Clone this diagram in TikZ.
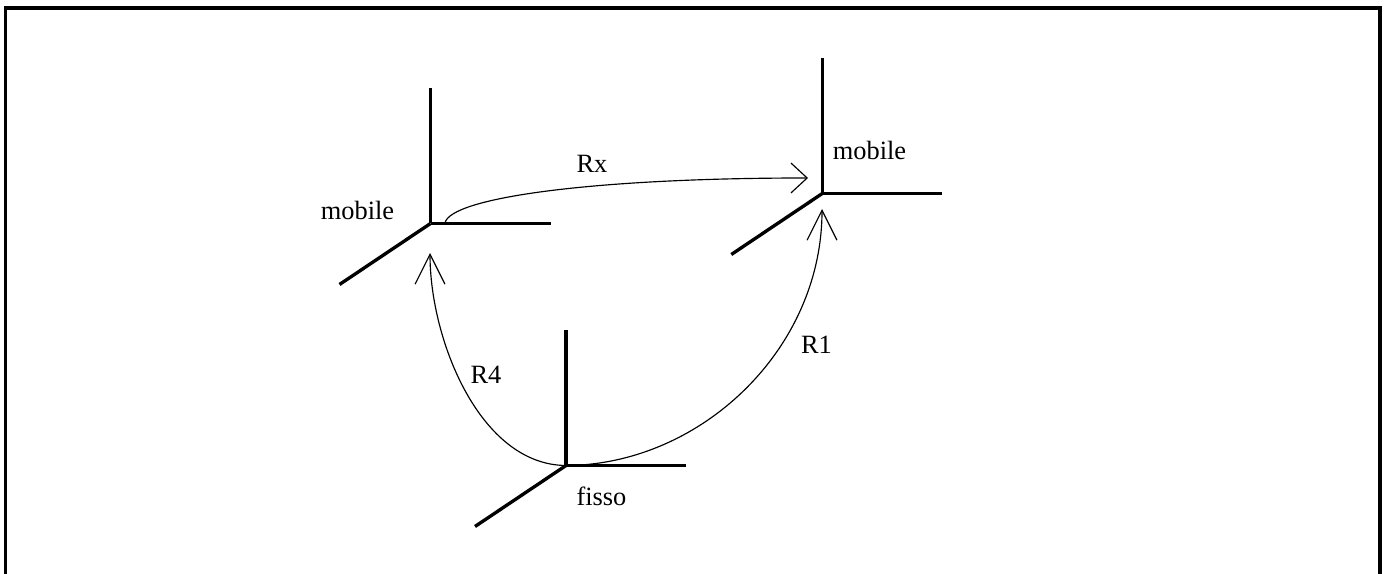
\documentclass[tikz,border=0pt]{standalone}
\usepackage{fontspec}
\setmainfont{Liberation Serif}
\usetikzlibrary{arrows.meta}
\tikzset{
  axisline/.style={line width=0.95pt},
  thinarc/.style={line width=0.33pt},
  upbarb/.style={-{Straight Barb[length=8.5pt,width=8.5pt,line width=0.33pt]}},
  sidebarb/.style={-{Straight Barb[length=4.6pt,width=8.5pt,line width=0.33pt]}}
}
\begin{document}
\begin{tikzpicture}[x=0.01cm, y=-0.01cm, every node/.style={font=\fontsize{7.5}{9}\selectfont, inner sep=0pt}]
  \useasboundingbox (0,0) rectangle (1386,574);
  % frame, open at the bottom
  \draw[axisline] (5.5,574) -- (5.5,8) -- (1380,8) -- (1380,574);
  % the three frames
  \coordinate (left) at (430.5,223.5);
  \coordinate (right) at (822.3,193.5);
  \coordinate (base) at (566,465.5);
  \foreach \o in {left,right,base} {
    \draw[axisline] (\o) -- ++(0,-135);
    \draw[axisline] (\o) -- ++(120,0);
    \draw[axisline] (\o) -- ++(-91,61);
  }
  \node (mobileA) at (357.5,210.5) {mobile};
  \node (mobileB) at (869.5,150.5) {mobile};
  \node (fisso) at (601.5,496) {fisso};
  \node (labelRx) at (592,164) {Rx};
  \node (labelRfour) at (486,375) {R4};
  \node (labelRone) at (816.5,345) {R1};
  % arcs between frames
  \coordinate (tipRx) at (808,178);
  \coordinate (tipRfour) at (430,253);
  \coordinate (tipRone) at (822,209);
  \coordinate (startRx) at (445,223);
  \draw[thinarc, sidebarb] (startRx) .. controls (450,198) and (590,178) .. (tipRx);
  \draw[thinarc, upbarb] (base) .. controls (480,465) and (430,340) .. (tipRfour);
  \draw[thinarc, upbarb] (base) .. controls (700,465) and (822,350) .. (tipRone);
\end{tikzpicture}
\end{document}
